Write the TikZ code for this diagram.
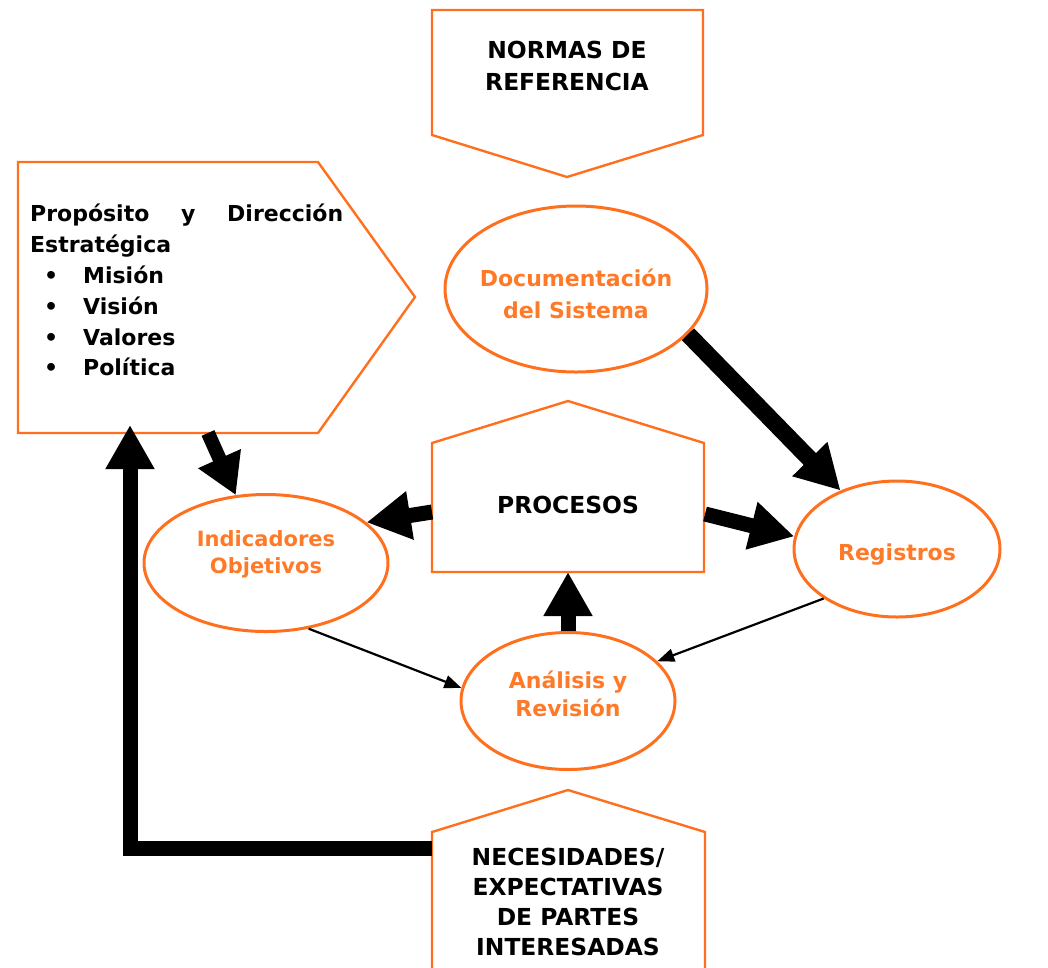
\documentclass[tikz,border=0pt]{standalone}
\usepackage{fontspec}
\setmainfont{DejaVu Sans}
\usetikzlibrary{arrows.meta,shapes.geometric}
\definecolor{orl}{RGB}{255,112,30}
\definecolor{ortx}{RGB}{255,122,40}
\begin{document}
\begin{tikzpicture}[x=1pt,y=-1pt,
  box/.style={draw=orl,line width=2.4pt,line join=miter},
  oval/.style={ellipse,draw=orl,line width=3pt,inner sep=0pt},
  otext/.style={text=ortx,align=center,inner sep=0pt,font=\bfseries\fontsize{22}{31}\selectfont},
  lbl/.style={align=center,inner sep=0pt,font=\bfseries\fontsize{23.4}{30}\selectfont},
  big/.style={line width=15pt,line join=miter,-{Triangle[length=44pt,width=46pt]}},
  thin/.style={line width=2.2pt,-{Triangle[length=17pt,width=13pt]}}]
\useasboundingbox (0,0) rectangle (1048,967);
% NORMAS DE REFERENCIA
\draw[box] (432,10) -- (703,10) -- (703,135) -- (567,177) -- (432,135) -- cycle;
\node[lbl,font=\bfseries\fontsize{23.4}{32}\selectfont] (normas) at (567,66) {NORMAS DE\\REFERENCIA};
% Proposito
\draw[box] (18,162) -- (318,162) -- (415,297) -- (318,433) -- (18,433) -- cycle;
\node[anchor=north west,inner sep=0pt,align=left,font=\bfseries\fontsize{22}{30.8}\selectfont] (prop) at (30,204)
  {\hbox to 313pt{Propósito\hfill y\hfill Dirección}\\
   Estratégica\\
   \hspace*{14pt}\makebox[39pt][l]{\textbullet}Misión\\
   \hspace*{14pt}\makebox[39pt][l]{\textbullet}Visión\\
   \hspace*{14pt}\makebox[39pt][l]{\textbullet}Valores\\
   \hspace*{14pt}\makebox[39pt][l]{\textbullet}Política};
% Documentacion
\node[oval,minimum width=262pt,minimum height=166pt] (doc) at (576,289) {};
\node[otext,font=\bfseries\fontsize{22}{32}\selectfont] (doct) at (576,294) {Documentación\\del Sistema};
% PROCESOS
\draw[box] (432,572) -- (432,443) -- (568,401) -- (704,443) -- (704,572) -- cycle;
\node[lbl] (proc) at (568,505) {PROCESOS};
% Registros
\node[oval,minimum width=206pt,minimum height=136pt] (reg) at (897,549) {};
\node[otext] (regt) at (897,555) {Registros};
% Indicadores
\node[oval,minimum width=244pt,minimum height=137pt] (ind) at (266,563) {};
\node[otext,font=\bfseries\fontsize{21}{27}\selectfont] (indt) at (266,554) {Indicadores\\Objetivos};
% Analisis
\node[oval,minimum width=214pt,minimum height=137pt] (ana) at (568,701) {};
\node[otext,font=\bfseries\fontsize{22}{28}\selectfont] (anat) at (568,694) {Análisis y\\Revisión};
% NECESIDADES
\draw[box] (432,975) -- (432,832) -- (568,790) -- (705,832) -- (705,975);
\node[lbl] (nec) at (568,902) {NECESIDADES/\\EXPECTATIVAS\\DE PARTES\\INTERESADAS};
% connector ends
\coordinate (procE) at (705,514);
\coordinate (procW) at (432,512);
\coordinate (procS) at (568,572);
\coordinate (propS) at (130,425);
\coordinate (propB) at (208,433);
\coordinate (necW) at (432,848);
\coordinate (corner) at (130,848);
% thick arrows
\draw[big,line width=17pt] (doc.-22) -- (reg.134);
\draw[big] (procE) -- (reg.173);
\draw[big] (procW) -- (ind.22);
\draw[big] (ana.north) -- (procS);
\draw[big,line width=14pt,-{Triangle[length=40pt,width=44pt]}] (propB) -- (ind.114);
\draw[big] (necW) -- (corner) -- (propS);
% thin arrows
\draw[thin] (ind.-57) -- (ana.173);
\draw[thin] (reg.-146) -- (ana.24);
\end{tikzpicture}
\end{document}
